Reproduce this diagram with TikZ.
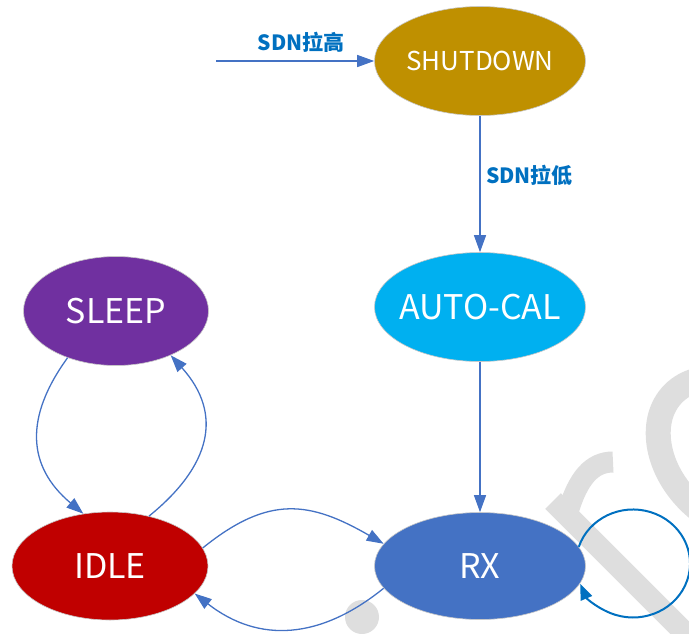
\documentclass[tikz,border=0pt]{standalone}
\usepackage{fontspec}
\setmainfont{Noto Sans CJK SC}
\usetikzlibrary{shapes.geometric,arrows.meta}

\definecolor{shutgold}{HTML}{BF9000}
\definecolor{autocyan}{HTML}{00B0F0}
\definecolor{sleeppurple}{HTML}{7030A0}
\definecolor{idlered}{HTML}{C00000}
\definecolor{rxblue}{HTML}{4472C4}
\definecolor{condblue}{HTML}{0070C0}
\definecolor{markgray}{HTML}{DEDEDE}

\tikzset{
  state/.style={ellipse, draw=black!22, line width=0.6pt, text=white, inner sep=0pt,
    minimum width=211pt, minimum height=109pt, font=\fontsize{34}{40}\selectfont},
  trans/.style={draw=rxblue, line width=1.3pt, -{Triangle[length=17pt,width=12pt]}},
  selfloop/.style={draw=condblue, line width=2pt, -{Triangle[length=16pt,width=12pt]}},
  cond/.style={text=condblue, inner sep=0pt, font=\fontsize{21}{25}\selectfont\bfseries},
  wmark/.style={draw=markgray, line width=#1}
}

\begin{document}
\begin{tikzpicture}[x=1pt,y=1pt]
\clip (0,0) rectangle (689,-633);
% watermark, behind everything
\fill [markgray] (362,-617) circle (17);
\draw [wmark=22pt] (553,-501) -- (690,-638);
\draw [wmark=21pt] (568,-512) .. controls (578,-478) and (592,-462) .. (613,-462);
\draw [wmark=25pt] (735,-455) ellipse [x radius=87, y radius=65, rotate=-45];
% states
\node [state, fill=shutgold, font=\fontsize{26}{30}\selectfont] (shut) at (480,-61) {SHUTDOWN};
\node [state, fill=autocyan, inner xsep=-6.5pt] (auto) at (480,-307) {AUTO-CAL};
\node [state, fill=sleeppurple, minimum width=185pt] (sleep) at (116,-311) {SLEEP};
\node [state, fill=idlered, minimum width=196pt, minimum height=108pt] (idle) at (110,-566) {IDLE};
\node [state, fill=rxblue, minimum height=107pt] (rx) at (480,-566) {RX};
% power-up entry
\coordinate (entry) at (216,-61);
\draw [trans] (entry) -- (shut);
\node [cond] (sdnhigh) at (301,-42) {SDN拉高};
\draw [trans] (shut) -- (auto);
\node [cond, anchor=west] (sdnlow) at (486,-175) {SDN拉低};
\draw [trans] (auto) -- (rx);
% sleep <-> idle
\draw [trans] (sleep.224) to [out=234, in=140, looseness=1.2] (idle.117);
\draw [trans] (idle.52) to [out=39, in=312, looseness=1.25] (sleep.321);
% idle <-> rx
\draw [trans] (idle.11) to [out=39, in=150, looseness=1.2] (rx.167);
\draw [trans] (rx.193) to [out=219, in=322, looseness=1.1] (idle.342);
\draw [selfloop] (rx.11) arc [start angle=162, end angle=-158, x radius=57, y radius=54];
\end{tikzpicture}
\end{document}
